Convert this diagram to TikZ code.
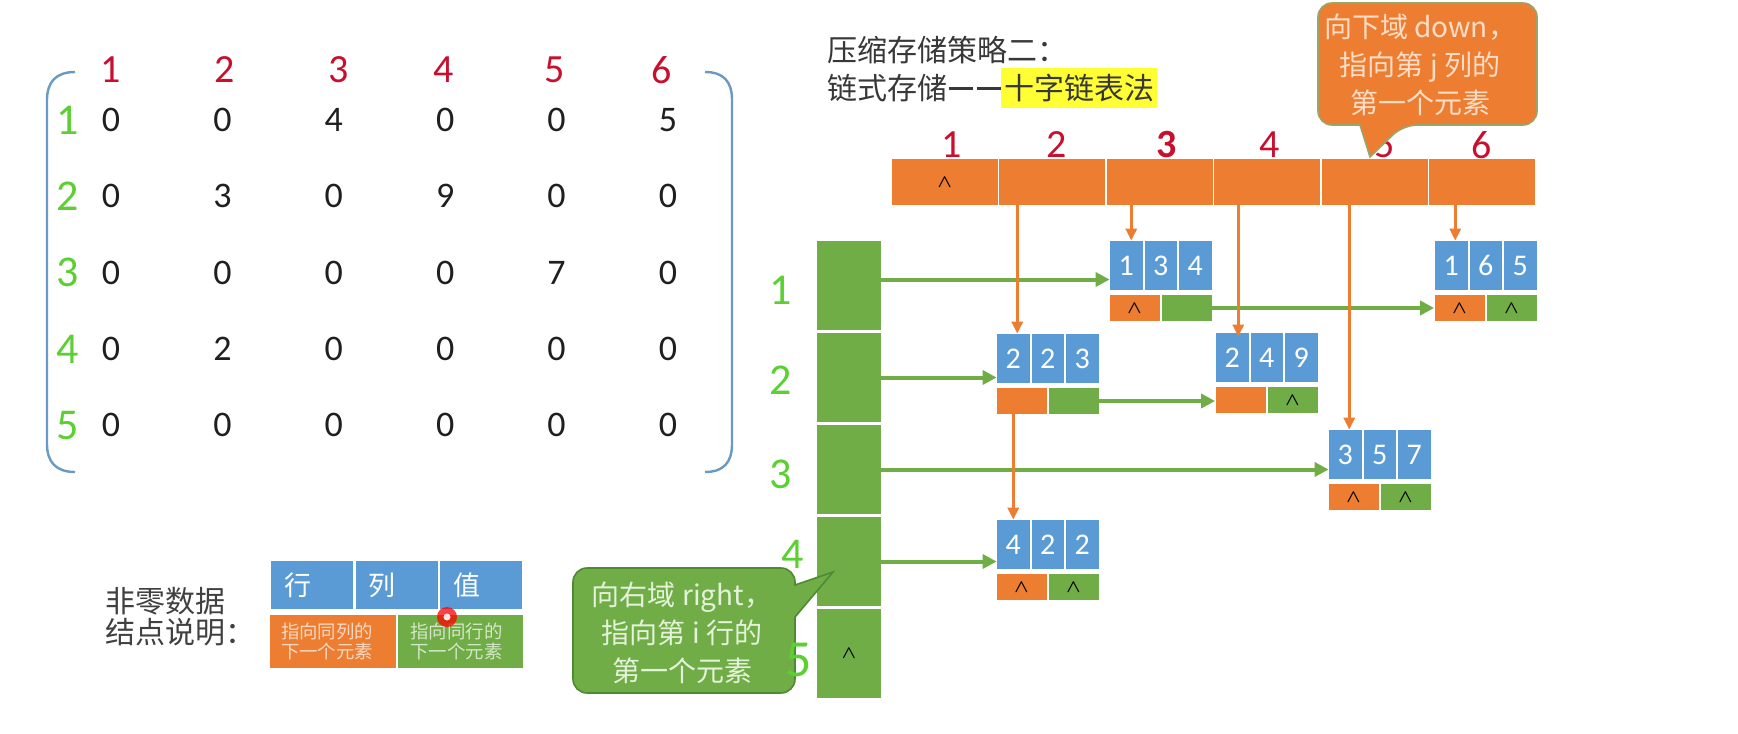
\documentclass[tikz,border=0pt]{standalone}
\usepackage{amsmath,bm}
\usepackage{fontspec}
\setmainfont{Carlito}
\newfontfamily\cjk{Noto Sans CJK SC}
\usetikzlibrary{arrows.meta,calc}
\definecolor{cblue}{HTML}{5B9BD5}
\definecolor{corange}{HTML}{ED7D31}
\definecolor{cgreen}{HTML}{70AD47}
\definecolor{hred}{HTML}{C8102E}
\definecolor{hgreen}{HTML}{5CD032}
\definecolor{brk}{HTML}{6A9AC4}
\definecolor{hl}{HTML}{FFFF33}
\definecolor{coborder}{HTML}{9AA56A}
\definecolor{cgborder}{HTML}{4E8A32}
\newcommand{\dnode}[8]{%
  \node[bcell] (#1-1) at ({#2+17.25},{#3+24.5}) {#4};
  \node[bcell] (#1-2) at ({#2+51.75},{#3+24.5}) {#5};
  \node[bcell] (#1-3) at ({#2+86.25},{#3+24.5}) {#6};
  \node[ocell] (#1-o) at ({#2+25.5},{#3+67}) {#7};
  \node[gcell] (#1-g) at ({#2+77.5},{#3+67}) {#8};
}
\newcommand{\cw}{$\bm{\wedge}$}
\newcommand{\twodash}{\hspace{0.05em}\raisebox{0.3em}{\rule{0.8em}{0.13em}}\hspace{0.12em}\raisebox{0.3em}{\rule{0.8em}{0.13em}}\hspace{0.05em}}
\begin{document}
\begin{tikzpicture}[x=0.5pt,y=-0.5pt,
  mnum/.style={font=\fontsize{18pt}{20pt}\selectfont, text=black!88, inner sep=0},
  hrd/.style={font=\fontsize{20pt}{22pt}\selectfont, text=hred, inner sep=0},
  hgr/.style={font=\fontsize{22pt}{24pt}\selectfont, text=hgreen, inner sep=0},
  title/.style={font=\cjk\fontsize{15pt}{18pt}\selectfont, text=black!78, inner sep=0},
  hcell/.style={fill=corange, minimum width=53pt, minimum height=23pt, inner sep=0},
  rcell/.style={fill=cgreen, minimum width=32pt, minimum height=44.5pt, inner sep=0},
  bcell/.style={fill=cblue, minimum width=16.25pt, minimum height=24.5pt, inner sep=0,
    text=white, font=\fontsize{15pt}{17pt}\selectfont},
  ocell/.style={fill=corange, minimum width=25pt, minimum height=13pt, inner sep=0,
    font=\fontsize{9pt}{10pt}\selectfont},
  gcell/.style={fill=cgreen, minimum width=25pt, minimum height=13pt, inner sep=0,
    font=\fontsize{9pt}{10pt}\selectfont},
  garrow/.style={draw=cgreen, line width=2pt, -{Triangle[length=7pt,width=7pt]}},
  oarrow/.style={draw=corange, line width=1.6pt, -{Triangle[length=6pt,width=5.5pt]}},
  ctext/.style={font=\cjk\fontsize{14pt}{19pt}\selectfont, align=center, inner sep=0},
  lgtext/.style={font=\cjk\fontsize{9.2pt}{10pt}\selectfont, align=center, inner sep=0, text=white, text opacity=0.7}
]
\useasboundingbox[fill=white] (0,0) rectangle (1738,733);

% ---------- matrix ----------
\foreach \row [count=\r] in {{0,0,4,0,0,5},{0,3,0,9,0,0},{0,0,0,0,7,0},{0,2,0,0,0,0},{0,0,0,0,0,0}} {
  \foreach \v [count=\c] in \row {
    \node[mnum] (m\r\c) at ({111+111.4*(\c-1)},{120+76.3*(\r-1)}) {\v};
  }
}
\foreach \c/\x in {1/111,2/225,3/339,4/444,5/555,6/662} {
  \node[hrd] (mc\c) at (\x,70) {\c};
}
\foreach \r in {1,...,5} {
  \node[hgr] (mr\r) at (68,{120+76.3*(\r-1)}) {\r};
}
\draw[brk, line width=1.2pt] (75,72) .. controls (56,72) and (47,82) .. (47,100) -- (47,444) .. controls (47,462) and (56,472) .. (75,472);
\draw[brk, line width=1.2pt] (705,72) .. controls (724,72) and (732,82) .. (732,100) -- (732,444) .. controls (732,462) and (724,472) .. (705,472);

% ---------- title ----------
\node[title, anchor=west] (t1) at (827,50) {压缩存储策略二：};
\node[title, anchor=west] (t2a) at (827,88) {链式存储\twodash};
\node[title, anchor=west, fill=hl, inner xsep=1.5pt, inner ysep=3pt] (t2b) at (t2a.east) {十字链表法};

% ---------- column header ----------
\foreach \i in {1,...,6} {
  \node[hcell] (hc\i) at ({944.75+107.5*(\i-1)},182) {};
}
\node[font=\fontsize{9pt}{10pt}\selectfont, inner sep=0] (hcw) at (hc1) {\cw};
\foreach \i/\x in {1/952,2/1057,4/1270,5/1385,6/1482} {
  \node[hrd] (hl\i) at (\x,145) {\i};
}
\node[hrd, font=\fontsize{20pt}{22pt}\selectfont\bfseries] (hl3) at (1167,145) {3};

% ---------- row header ----------
\foreach \i in {1,...,5} {
  \node[rcell] (rh\i) at (849,{285.5+92*(\i-1)}) {};
}
\node[font=\fontsize{9pt}{10pt}\selectfont, inner sep=0] (rhw) at (rh5) {\cw};
\node[hgr] (rl1) at (781,290) {1};
\node[hgr] (rl2) at (781,380) {2};
\node[hgr] (rl3) at (781,474) {3};

% ---------- data nodes ----------
\dnode{n134}{1109}{241}{1}{3}{4}{\cw}{}
\dnode{n165}{1434}{241}{1}{6}{5}{\cw}{\cw}
\dnode{n223}{996}{334}{2}{2}{3}{}{}
\dnode{n249}{1215}{333}{2}{4}{9}{}{\cw}
\dnode{n357}{1328}{430}{3}{5}{7}{\cw}{\cw}
\dnode{n422}{996}{520}{4}{2}{2}{\cw}{\cw}

% ---------- green (right) arrows ----------
\draw[garrow] ([yshift=3pt]rh1.east) -- ([yshift=3pt]rh1.east -| n134-1.west);
\draw[garrow] (rh2.east) -- (rh2.east -| n223-1.west);
\draw[garrow] (rh3.east) -- (rh3.east -| n357-1.west);
\draw[garrow] (rh4.east) -- (rh4.east -| n422-1.west);
\draw[garrow] (n134-g.east) -- (n134-g.east -| n165-o.west);
\draw[garrow] (n223-g.east) -- (n223-g.east -| n249-o.west);

% ---------- orange (down) arrows ----------
\draw[oarrow] ([xshift=2pt]n223-1.north |- hc2.south) -- ([xshift=2pt]n223-1.north);
\draw[oarrow] ([xshift=2.5pt]n134-1.north |- hc3.south) -- ([xshift=2.5pt]n134-1.north);
\draw[oarrow] ([xshift=3pt]n249-1.north |- hc4.south) -- ([xshift=3pt,yshift=-2pt]n249-1.north);
\draw[oarrow] ([xshift=2pt]n357-1.north |- hc5.south) -- ([xshift=2pt]n357-1.north);
\draw[oarrow] ([xshift=2pt]n165-1.north |- hc6.south) -- ([xshift=2pt]n165-1.north);
\draw[oarrow] (n422-1.north |- n223-o.south) -- (n422-1.north);

% ---------- callouts ----------
\path[fill=corange, draw=coborder, line width=0.8pt, rounded corners=7pt]
  (1318,3) -- (1537,3) -- (1537,125) -- (1403,125) [sharp corners] -- (1370,157) -- (1360,125) [rounded corners=7pt] -- (1318,125) -- cycle;
\node[ctext, text={rgb,255:red,252;green,222;blue,200}] (cdown) at (1420,65) {向下域 down，\\指向第 j 列的\\第一个元素};

\path[fill=cgreen, draw=cgborder, line width=0.8pt, rounded corners=7pt]
  (573,568) -- (795,568) [sharp corners] -- (795,585) -- (833,572) -- (795,617) [rounded corners=7pt] -- (795,693) -- (573,693) -- cycle;
\node[ctext, text={rgb,255:red,228;green,242;blue,218}] (cright) at (682,633) {向右域 right，\\指向第 i 行的\\第一个元素};

% handwritten row labels drawn over the callout
\node[hgr] (rl4) at (793,554) {4};
\node[hgr, font=\fontsize{26pt}{28pt}\selectfont] (rl5) at (799,660) {5};

% ---------- legend ----------
\node[title, anchor=west, align=left, font=\cjk\fontsize{15pt}{15.5pt}\selectfont, text=black!75] (lgl) at (105,617) {非零数据\\结点说明：};
\node[fill=cblue, minimum width=41pt, minimum height=24pt, inner sep=0] (lg1) at (312,585) {};
\node[fill=cblue, minimum width=41pt, minimum height=24pt, inner sep=0] (lg2) at (396.5,585) {};
\node[fill=cblue, minimum width=41pt, minimum height=24pt, inner sep=0] (lg3) at (481,585) {};
\foreach \i/\t in {1/行,2/列,3/值} {
  \node[font=\cjk\fontsize{13.5pt}{15pt}\selectfont, text=white, anchor=west, inner sep=0] (lgt\i) at ([xshift=6.5pt]lg\i.west) {\t};
}
\node[fill=corange, minimum width=63pt, minimum height=26.5pt, inner sep=0] (lgo) at (333,641.5) {};
\node[fill=cgreen, minimum width=62.5pt, minimum height=26.5pt, inner sep=0] (lgg) at (460.5,641.5) {};
\node[lgtext] (lgot) at ([xshift=-3pt]lgo) {指向同列的\\下一个元素};
\node[lgtext] (lggt) at ([xshift=-2pt]lgg) {指向同行的\\下一个元素};
\fill[red, opacity=0.75] (447,617) circle (10);
\fill[white!60!pink] (447,617) circle (3.5);
\end{tikzpicture}
\end{document}
